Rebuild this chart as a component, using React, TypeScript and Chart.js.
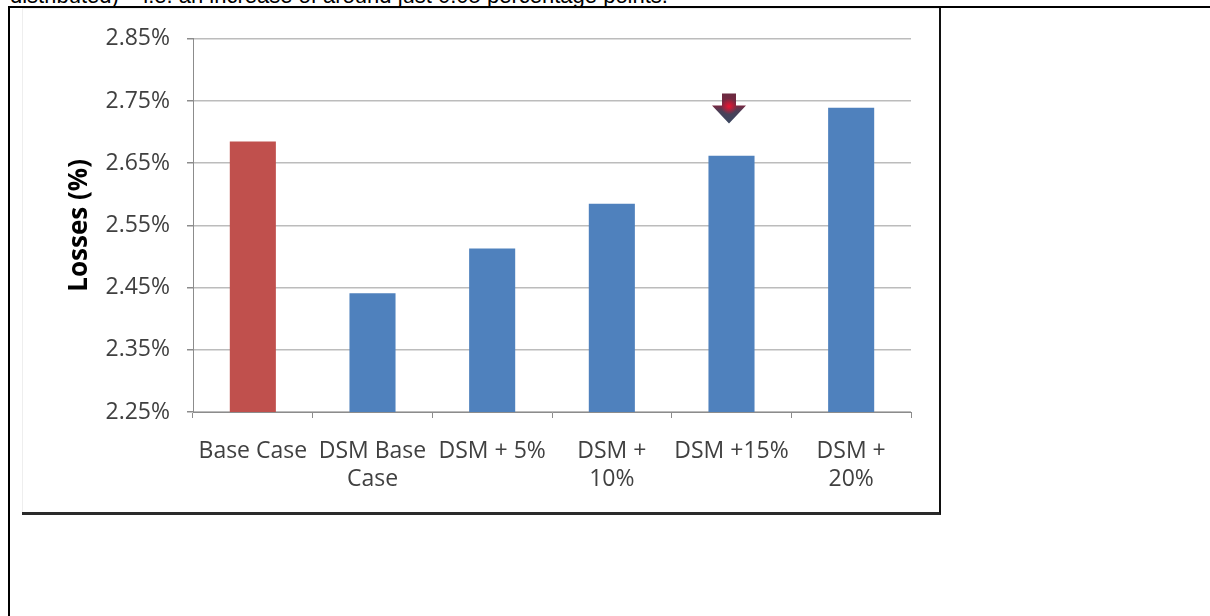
import React, { useEffect, useRef } from "react";
import { Chart, registerables } from "chart.js";

Chart.register(...registerables);

// ---- data ----
const categories: string[][] = [
  ["Base Case"],
  ["DSM Base", "Case"],
  ["DSM + 5%"],
  ["DSM +", "10%"],
  ["DSM +15%"],
  ["DSM +", "20%"],
];
const lossValues: number[] = [2.685, 2.441, 2.513, 2.585, 2.662, 2.739];
const barColors: string[] = ["#C0504D", "#4F81BD", "#4F81BD", "#4F81BD", "#4F81BD", "#4F81BD"];
const yTickValues: number[] = [2.25, 2.35, 2.45, 2.55, 2.65, 2.75, 2.85];
const yTitle = "Losses (%)";
const arrowIndex = 4;
const arrowTopValue = 2.762;
const arrowTipValue = 2.714;
const headerText = "distributed) \u2013 i.e. an increase of around just 0.05 percentage points.";

const FONT = '"Open Sans", "DejaVu Sans", sans-serif';

const arrowPlugin = {
  id: "markerArrow",
  afterDatasetsDraw(chart: any) {
    const ctx = chart.ctx as CanvasRenderingContext2D;
    const xs = chart.scales.x;
    const ys = chart.scales.y;
    const x = xs.getPixelForValue(arrowIndex) - 2.5;
    const yTop = ys.getPixelForValue(arrowTopValue);
    const yTip = ys.getPixelForValue(arrowTipValue);
    const h = yTip - yTop;
    const shaftW = 14;
    const headW = 34;
    const neck = yTip - h * 0.6;
    ctx.save();
    ctx.beginPath();
    ctx.moveTo(x - shaftW / 2, yTop);
    ctx.lineTo(x + shaftW / 2, yTop);
    ctx.lineTo(x + shaftW / 2, neck);
    ctx.lineTo(x + headW / 2, neck);
    ctx.lineTo(x, yTip);
    ctx.lineTo(x - headW / 2, neck);
    ctx.lineTo(x - shaftW / 2, neck);
    ctx.closePath();
    const g = ctx.createLinearGradient(0, yTop, 0, yTip);
    g.addColorStop(0, "#6b2a40");
    g.addColorStop(0.4, "#7a2842");
    g.addColorStop(0.6, "#4a3f57");
    g.addColorStop(1, "#3a4760");
    ctx.fillStyle = g;
    ctx.fill();
    ctx.clip();
    const r = ctx.createRadialGradient(x, neck + 1, 0, x, neck + 1, 8);
    r.addColorStop(0, "rgba(235,20,50,1)");
    r.addColorStop(1, "rgba(235,20,50,0)");
    ctx.fillStyle = r;
    ctx.fillRect(x - 20, yTop, 40, h);
    ctx.restore();
  },
};

export default function App() {
  const canvasRef = useRef<HTMLCanvasElement | null>(null);

  useEffect(() => {
    if (!canvasRef.current) return;
    const chart = new Chart(canvasRef.current, {
      type: "bar",
      data: {
        labels: categories as any,
        datasets: [
          {
            data: lossValues,
            backgroundColor: barColors,
            borderWidth: 0,
            barPercentage: 0.385,
            categoryPercentage: 1,
          },
        ],
      },
      options: {
        animation: false,
        responsive: false,
        maintainAspectRatio: false,
        events: [],
        layout: { padding: { top: 30, right: 28, left: 0, bottom: 0 } },
        plugins: { legend: { display: false }, tooltip: { enabled: false } },
        scales: {
          x: {
            grid: {
              offset: true,
              drawOnChartArea: false,
              drawTicks: true,
              tickLength: 6,
              color: "#8c8c8c",
              lineWidth: 1,
            },
            border: { display: true, color: "#8c8c8c", width: 1 },
            ticks: {
              color: "#404040",
              font: { family: FONT, size: 23 },
              padding: 20,
              maxRotation: 0,
              minRotation: 0,
              autoSkip: false,
            },
            afterFit: (s: any) => {
              s.height = 100;
            },
          },
          y: {
            min: 2.25,
            max: 2.85,
            afterBuildTicks: (s: any) => {
              s.ticks = yTickValues.map((v) => ({ value: v }));
            },
            grid: { color: "#bcbcbc", lineWidth: 1.5, tickLength: 6, drawTicks: true, tickColor: "#8c8c8c" },
            border: { display: true, color: "#8c8c8c", width: 1 },
            ticks: {
              color: "#404040",
              font: { family: FONT, size: 23 },
              padding: 17,
              callback: (v: any) => Number(v).toFixed(2) + "%",
            },
            title: {
              display: true,
              text: yTitle,
              color: "#000000",
              font: { family: FONT, size: 26, weight: "bold" },
              padding: { top: 42, bottom: 0 },
            },
            afterFit: (s: any) => {
              s.width = 171;
            },
          },
        },
      } as any,
      plugins: [arrowPlugin],
    });
    return () => chart.destroy();
  }, []);

  return (
    <div
      style={{
        position: "absolute",
        left: 0,
        top: 0,
        width: 1210,
        height: 616,
        overflow: "hidden",
        background: "#ffffff",
      }}
    >
      <div
        style={{
          position: "absolute",
          left: 10,
          top: -15,
          font: '22px "Liberation Sans", Arial, sans-serif',
          lineHeight: "22px",
          whiteSpace: "nowrap",
          color: "#000",
        }}
      >
        {headerText}
      </div>
      <div
        style={{
          position: "absolute",
          left: 8,
          top: 6,
          width: 1400,
          height: 800,
          borderLeft: "2px solid #000",
          borderTop: "2px solid #000",
        }}
      />
      <div
        style={{
          position: "absolute",
          left: 22,
          top: 8,
          width: 917,
          height: 504,
          background: "#ffffff",
          borderRight: "2px solid #111",
          borderBottom: "3px solid #2a2a2a",
          boxShadow: "inset 1px 1px 0 #eeeeee",
        }}
      >
        <canvas ref={canvasRef} width={917} height={504} style={{ display: "block" }} />
      </div>
    </div>
  );
}
